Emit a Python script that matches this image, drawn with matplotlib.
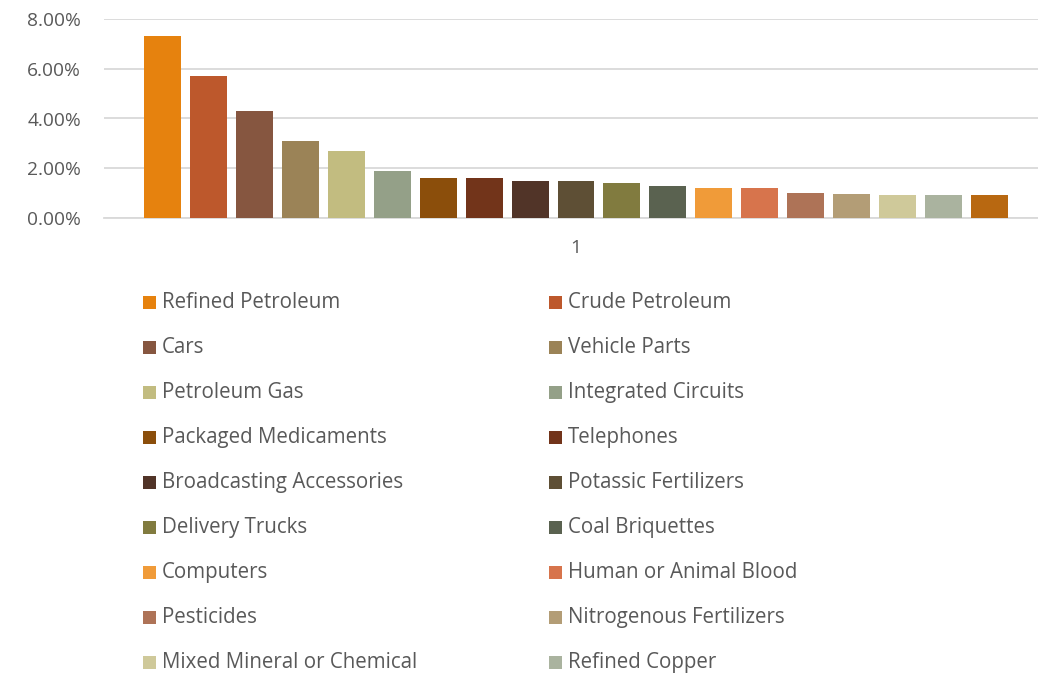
import matplotlib
matplotlib.use("Agg")
import matplotlib.pyplot as plt
from matplotlib.patches import Rectangle
from matplotlib.ticker import PercentFormatter

# Export shares by product (percent of total exports)
products = [
    "Refined Petroleum", "Crude Petroleum", "Cars", "Vehicle Parts",
    "Petroleum Gas", "Integrated Circuits", "Packaged Medicaments", "Telephones",
    "Broadcasting Accessories", "Potassic Fertilizers", "Delivery Trucks",
    "Coal Briquettes", "Computers", "Human or Animal Blood", "Pesticides",
    "Nitrogenous Fertilizers", "Mixed Mineral or Chemical", "Refined Copper",
    "Raw Aluminium",
]
shares = [
    7.30, 5.70, 4.30, 3.10, 2.70, 1.90, 1.60, 1.60, 1.50, 1.50,
    1.40, 1.30, 1.20, 1.20, 1.00, 0.95, 0.92, 0.92, 0.92,
]
colors = [
    "#E6820E", "#BD582C", "#865640", "#9B8357", "#C2BC80", "#94A088",
    "#8B4E0B", "#72341A", "#513428", "#5E4F35", "#817B3F", "#5A6250",
    "#F09B39", "#D7744C", "#AE7357", "#B39D76", "#CFC99A", "#AAB39F",
    "#B86811",
]
category_labels = ["1"]
legend_count = 18  # entries that fit below the plot

W, H = 1038, 673
TEXT = "#595959"
FONT = "Open Sans"
TICK_FS = 13.8
LEGEND_FS = 14.8

fig = plt.figure(figsize=(W / 100, H / 100), dpi=100)
ax = fig.add_axes([104 / W, (H - 218) / H, 944 / W, 199 / H])

n = len(shares)
positions = list(range(n))
ax.bar(positions, [s / 100 for s in shares], width=0.805, color=colors, zorder=3)

ax.set_xlim(-1.273, n - 1 + 1.273)
ax.set_ylim(0, 0.08)
ax.set_yticks([0, 0.02, 0.04, 0.06, 0.08])
ax.yaxis.set_major_formatter(PercentFormatter(1.0, decimals=2))
ax.set_xticks([(n - 1) / 2])
ax.set_xticklabels(category_labels)

for side in ("top", "right", "left"):
    ax.spines[side].set_visible(False)
ax.spines["bottom"].set_color("#D9D9D9")
ax.spines["bottom"].set_linewidth(1.3)
ax.grid(axis="y", color="#D9D9D9", linewidth=1.3, zorder=0)
ax.tick_params(axis="both", length=0, labelcolor=TEXT, labelsize=TICK_FS)
ax.tick_params(axis="y", pad=16.5)
ax.tick_params(axis="x", pad=15)
for lbl in ax.get_xticklabels() + ax.get_yticklabels():
    lbl.set_fontfamily(FONT)

# Two-column legend laid out row by row under the plot
for i in range(legend_count):
    row, col = divmod(i, 2)
    x0 = 143 + col * 406
    yb = 308 + row * 45
    fig.add_artist(Rectangle((x0 / W, (H - yb - 0.5) / H), 13 / W, 13 / H,
                             transform=fig.transFigure, color=colors[i], lw=0))
    fig.text((x0 + 19) / W, (H - yb) / H, products[i], color=TEXT,
             fontsize=LEGEND_FS, fontfamily=FONT, va="baseline", ha="left")

fig.savefig("out.png", dpi=100)
